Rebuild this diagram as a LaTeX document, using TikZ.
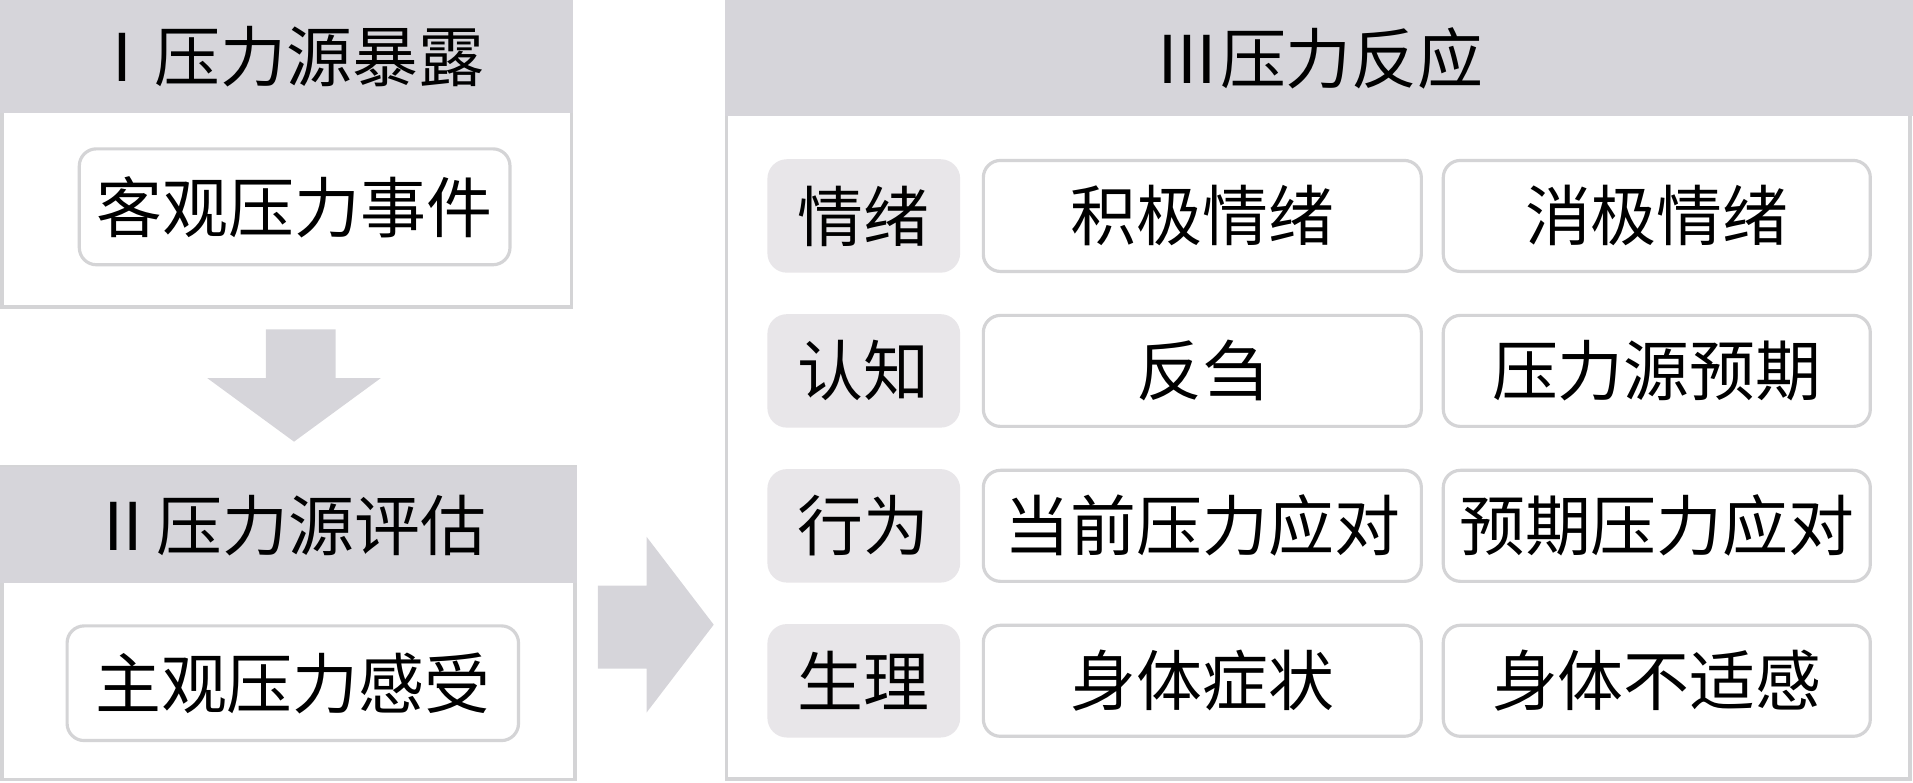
\documentclass[tikz,border=0pt]{standalone}
\usepackage{fontspec}
\setmainfont{Noto Sans CJK SC}
\definecolor{headgray}{RGB}{214,213,218}
\definecolor{catgray}{RGB}{232,230,233}
\definecolor{linegray}{RGB}{212,212,214}
\tikzset{
  outerbox/.style={draw=linegray, line width=3pt, fill=white, inner sep=0pt, outer sep=0pt},
  headbox/.style={fill=headgray, inner sep=0pt, outer sep=0pt, font=\fontsize{54pt}{60pt}\selectfont},
  itembox/.style={draw=linegray, line width=2.6pt, fill=white, rounded corners=14pt, inner sep=0pt, outer sep=0pt, font=\fontsize{54pt}{60pt}\selectfont},
  catbox/.style={fill=catgray, rounded corners=16pt, inner sep=0pt, outer sep=0pt, minimum width=158pt, minimum height=93pt, font=\fontsize{54pt}{60pt}\selectfont},
  bigarrow/.style={fill=headgray, draw=none}
}
\begin{document}
\begin{tikzpicture}[x=1pt,y=-1pt]
\useasboundingbox (0,0) rectangle (1568,641);
% Box I
\node[outerbox, minimum width=467pt, minimum height=250pt, anchor=north west] (b1) at (1.5,1.5) {};
\node[headbox, minimum width=470pt, minimum height=93pt, anchor=north west] (h1) at (0,0) {Ⅰ压力源暴露};
\node[itembox, minimum width=353pt, minimum height=95pt] (i1) at (241.5,169.5) {客观压力事件};
% Down arrow
\path[bigarrow] (218,270) -- (275,270) -- (275,310) -- (312,310) -- (241,362) -- (170,310) -- (218,310) -- cycle;
% Box II
\node[outerbox, minimum width=470pt, minimum height=256pt, anchor=north west] (b2) at (1.5,383) {};
\node[headbox, minimum width=473pt, minimum height=95pt, anchor=north west] (h2) at (0,383) {Ⅱ压力源评估};
\node[itembox, minimum width=370pt, minimum height=94pt] (i2) at (240,560) {主观压力感受};
% Right arrow
\path[bigarrow] (490,480) -- (530,480) -- (530,440) -- (585,512) -- (530,584) -- (530,548) -- (490,548) -- cycle;
% Box III
\node[outerbox, minimum width=970pt, minimum height=637pt, anchor=north west] (b3) at (595.5,1.5) {};
\node[headbox, minimum width=974pt, minimum height=95pt, anchor=north west] (h3) at (594,0) {Ⅲ压力反应};
% rows
\node[catbox] (c1) at (708,177) {情绪};
\node[catbox] (c2) at (708,304) {认知};
\node[catbox] (c3) at (708,431) {行为};
\node[catbox] (c4) at (708,558) {生理};
\node[itembox, minimum width=359pt, minimum height=91pt] (r1a) at (985.5,177) {积极情绪};
\node[itembox, minimum width=350pt, minimum height=91pt] (r1b) at (1358,177) {消极情绪};
\node[itembox, minimum width=359pt, minimum height=91pt] (r2a) at (985.5,304) {反刍};
\node[itembox, minimum width=350pt, minimum height=91pt] (r2b) at (1358,304) {压力源预期};
\node[itembox, minimum width=359pt, minimum height=91pt] (r3a) at (985.5,431) {当前压力应对};
\node[itembox, minimum width=350pt, minimum height=91pt] (r3b) at (1358,431) {预期压力应对};
\node[itembox, minimum width=359pt, minimum height=91pt] (r4a) at (985.5,558) {身体症状};
\node[itembox, minimum width=350pt, minimum height=91pt] (r4b) at (1358,558) {身体不适感};
\end{tikzpicture}
\end{document}
